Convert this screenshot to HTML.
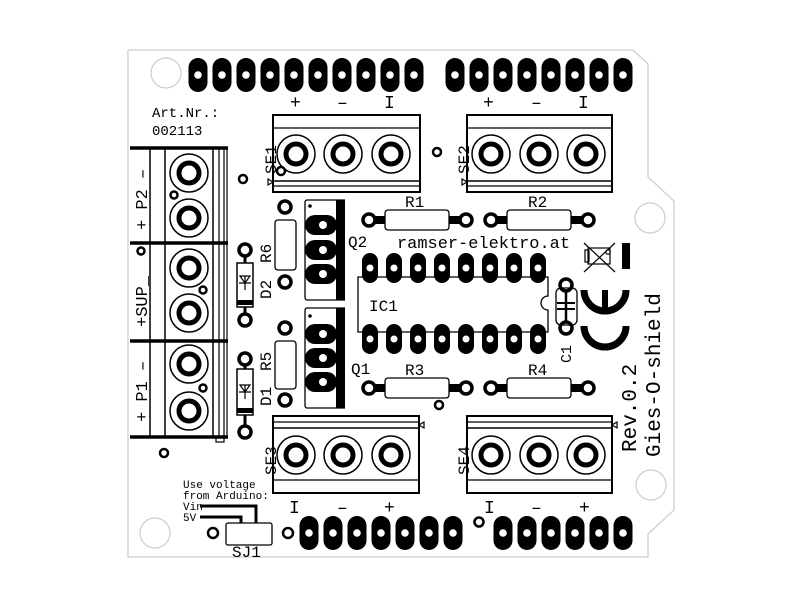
<!DOCTYPE html>
<html><head><meta charset="utf-8"><style>
html,body{margin:0;padding:0;background:#fff;}
svg{display:block;}
text{font-family:"Liberation Mono","DejaVu Sans Mono",monospace;fill:#000;}
</style></head><body>
<svg width="800" height="600" viewBox="0 0 800 600" xmlns="http://www.w3.org/2000/svg">
<rect width="800" height="600" fill="#fff"/>
<polyline points="128,50 633,50 648,64 648,177 674,201 674,510 648,534 648,557 128,557 128,50" fill="none" stroke="#ccc" stroke-width="1.2"/>
<g fill="none" stroke="#ccc" stroke-width="1.2">
<circle cx="166" cy="73" r="15"/><circle cx="155" cy="533" r="15"/>
<circle cx="650" cy="218" r="15"/><circle cx="651" cy="485" r="15"/>
</g>
<defs>
<g id="hp"><rect x="-9.5" y="-17" width="19" height="34" rx="9.5" fill="#000"/><circle r="3.8" fill="#fff"/></g>
<g id="vp"><rect x="-8" y="-15" width="16" height="30" rx="8" fill="#000"/><circle r="3.5" fill="#fff"/></g>
<g id="qp"><rect x="-16" y="-10" width="32" height="20" rx="10" fill="#000"/><circle cx="2" r="4" fill="#fff"/></g>
<g id="sp"><circle r="6" fill="none" stroke="#000" stroke-width="3.5"/></g>
<g id="tc"><circle r="19" fill="none" stroke="#000" stroke-width="1.5"/><circle r="10" fill="none" stroke="#000" stroke-width="5"/></g>
</defs>
<g>
<use href="#hp" x="198" y="75"/><use href="#hp" x="222" y="75"/><use href="#hp" x="246" y="75"/><use href="#hp" x="270" y="75"/><use href="#hp" x="294" y="75"/><use href="#hp" x="318" y="75"/><use href="#hp" x="342" y="75"/><use href="#hp" x="366" y="75"/><use href="#hp" x="390" y="75"/><use href="#hp" x="414" y="75"/>
<use href="#hp" x="455" y="75"/><use href="#hp" x="479" y="75"/><use href="#hp" x="503" y="75"/><use href="#hp" x="527" y="75"/><use href="#hp" x="551" y="75"/><use href="#hp" x="575" y="75"/><use href="#hp" x="599" y="75"/><use href="#hp" x="623" y="75"/>
</g>
<g>
<use href="#hp" x="309" y="533"/><use href="#hp" x="333" y="533"/><use href="#hp" x="357" y="533"/><use href="#hp" x="381" y="533"/><use href="#hp" x="405" y="533"/><use href="#hp" x="429" y="533"/><use href="#hp" x="453" y="533"/>
<use href="#hp" x="503" y="533"/><use href="#hp" x="527" y="533"/><use href="#hp" x="551" y="533"/><use href="#hp" x="575" y="533"/><use href="#hp" x="599" y="533"/><use href="#hp" x="623" y="533"/>
</g>
<g font-size="18">
<text x="290" y="108">+</text><text x="337" y="108">–</text><text x="384" y="108" font-family="Liberation Serif">I</text>
<text x="483" y="108">+</text><text x="531" y="108">–</text><text x="578" y="108" font-family="Liberation Serif">I</text>
<text x="289" y="513" font-family="Liberation Serif">I</text><text x="337" y="513">–</text><text x="384" y="513">+</text>
<text x="484" y="513" font-family="Liberation Serif">I</text><text x="531" y="513">–</text><text x="579" y="513">+</text>
</g>
<text x="152" y="117" font-size="14">Art.Nr.:</text>
<text x="152" y="135" font-size="14">002113</text>
<g fill="none" stroke="#000">
<rect x="273" y="115" width="147" height="77" stroke-width="2"/>
<line x1="273" y1="128" x2="420" y2="128" stroke-width="1.2"/>
<line x1="273" y1="181" x2="420" y2="181" stroke-width="1.5"/>
<line x1="273" y1="186" x2="420" y2="186" stroke-width="1.2"/>
<rect x="467" y="115" width="145" height="77" stroke-width="2"/>
<line x1="467" y1="128" x2="612" y2="128" stroke-width="1.2"/>
<line x1="467" y1="181" x2="612" y2="181" stroke-width="1.5"/>
<line x1="467" y1="186" x2="612" y2="186" stroke-width="1.2"/>
<rect x="273" y="416" width="146" height="77" stroke-width="2"/>
<line x1="273" y1="422" x2="419" y2="422" stroke-width="1.2"/>
<line x1="273" y1="428" x2="419" y2="428" stroke-width="1.5"/>
<line x1="273" y1="480" x2="419" y2="480" stroke-width="1.2"/>
<rect x="467" y="416" width="145" height="77" stroke-width="2"/>
<line x1="467" y1="422" x2="612" y2="422" stroke-width="1.2"/>
<line x1="467" y1="428" x2="612" y2="428" stroke-width="1.5"/>
<line x1="467" y1="480" x2="612" y2="480" stroke-width="1.2"/>
<path d="M268,179 l5,3 l-5,3z M462,179 l5,3 l-5,3z M424,422 l-5,3 l5,3z M617,422 l-5,3 l5,3z" stroke-width="1.2"/>
</g>
<use href="#tc" x="296" y="154"/><use href="#tc" x="343" y="154"/><use href="#tc" x="391" y="154"/>
<use href="#tc" x="491" y="154"/><use href="#tc" x="539" y="154"/><use href="#tc" x="586" y="154"/>
<use href="#tc" x="296" y="455"/><use href="#tc" x="343" y="455"/><use href="#tc" x="391" y="455"/>
<use href="#tc" x="491" y="455"/><use href="#tc" x="539" y="455"/><use href="#tc" x="586" y="455"/>
<g font-size="16">
<text transform="translate(276,174) rotate(-90)">SE1</text>
<text transform="translate(469,174) rotate(-90)">SE2</text>
<text transform="translate(276,475) rotate(-90)">SE3</text>
<text transform="translate(469,475) rotate(-90)">SE4</text>
</g>
<g stroke="#000" fill="none">
<line x1="130" y1="148" x2="228" y2="148" stroke-width="3.5"/>
<line x1="130" y1="243" x2="228" y2="243" stroke-width="3.5"/>
<line x1="130" y1="341" x2="228" y2="341" stroke-width="3.5"/>
<line x1="130" y1="437" x2="228" y2="437" stroke-width="3.5"/>
<line x1="150" y1="148" x2="150" y2="437" stroke-width="1.5"/>
<line x1="165" y1="148" x2="165" y2="437" stroke-width="1.5"/>
<line x1="213" y1="148" x2="213" y2="437" stroke-width="1.5"/>
<line x1="219" y1="148" x2="219" y2="437" stroke-width="1.2"/>
<line x1="224" y1="148" x2="224" y2="437" stroke-width="1.2"/>
<line x1="227" y1="148" x2="227" y2="437" stroke-width="1.2"/>
<rect x="216" y="437" width="8" height="5" stroke-width="1.2"/>
</g>
<use href="#tc" x="189" y="173"/><use href="#tc" x="189" y="218"/>
<use href="#tc" x="189" y="268"/><use href="#tc" x="189" y="313"/>
<use href="#tc" x="189" y="364"/><use href="#tc" x="189" y="411"/>
<g font-size="17">
<text transform="translate(147,230) rotate(-90)">+ P2 –</text>
<text transform="translate(147,327) rotate(-90)">+SUP_</text>
<text transform="translate(147,422) rotate(-90)">+ P1 –</text>
</g>
<g fill="none" stroke="#000" stroke-width="2.5">
<circle cx="141" cy="251" r="3.5"/><circle cx="174" cy="195" r="3.5"/><circle cx="203" cy="290" r="3.5"/><circle cx="203" cy="388" r="3.5"/>
<circle cx="243" cy="179" r="4"/><circle cx="164" cy="453" r="4"/><circle cx="281" cy="171" r="4"/><circle cx="437" cy="152" r="4"/><circle cx="439" cy="405" r="4"/><circle cx="479" cy="522" r="4.5"/><circle cx="288" cy="533" r="5"/><circle cx="213" cy="533" r="5"/>
</g>
<use href="#sp" x="245" y="250"/><use href="#sp" x="245" y="320"/>
<use href="#sp" x="245" y="359"/><use href="#sp" x="245" y="432"/>
<g stroke="#000" fill="none">
<line x1="245" y1="255" x2="245" y2="315" stroke-width="3"/>
<rect x="237" y="263" width="16" height="44" fill="#fff" stroke-width="1.5"/>
<rect x="237" y="300" width="16" height="5" fill="#000" stroke="none"/>
<path d="M239,283 h12 M245,276 v14 M240,276 l5,7 l5,-7z" stroke-width="1.2"/>
<line x1="245" y1="364" x2="245" y2="427" stroke-width="3"/>
<rect x="237" y="369" width="16" height="46" fill="#fff" stroke-width="1.5"/>
<rect x="237" y="408" width="16" height="5" fill="#000" stroke="none"/>
<path d="M239,392 h12 M245,385 v14 M240,385 l5,7 l5,-7z" stroke-width="1.2"/>
</g>
<g font-size="16">
<text transform="translate(271,299) rotate(-90)">D2</text>
<text transform="translate(271,406) rotate(-90)">D1</text>
<text transform="translate(271,263) rotate(-90)">R6</text>
<text transform="translate(271,371) rotate(-90)">R5</text>
</g>
<use href="#sp" x="285" y="207"/><use href="#sp" x="285" y="282"/>
<use href="#sp" x="285" y="328"/><use href="#sp" x="285" y="400"/>
<g fill="none" stroke="#000" stroke-width="1.3">
<rect x="275" y="220" width="21" height="50" rx="3"/>
<rect x="275" y="341" width="21" height="48" rx="3"/>
</g>
<g stroke="#000" fill="none" stroke-width="1.3">
<path d="M345,200 H307 Q305,200 305,203 V297 Q305,300 307,300 H345"/>
<path d="M345,308 H307 Q305,308 305,311 V405 Q305,408 307,408 H345"/>
</g>
<rect x="336" y="200" width="9" height="100" fill="#000"/>
<rect x="336" y="308" width="9" height="100" fill="#000"/>
<circle cx="310" cy="206" r="1.8" fill="#000"/><circle cx="310" cy="316" r="1.8" fill="#000"/>
<use href="#qp" x="321" y="225"/><use href="#qp" x="321" y="250"/><use href="#qp" x="321" y="274"/>
<use href="#qp" x="321" y="334"/><use href="#qp" x="321" y="358"/><use href="#qp" x="321" y="382"/>
<text x="348" y="247" font-size="16">Q2</text>
<text x="351" y="374" font-size="16">Q1</text>
<g id="rh">
<use href="#sp" x="369" y="220"/><use href="#sp" x="466" y="220"/>
<rect x="374" y="216" width="12" height="8" fill="#000"/><rect x="448" y="216" width="12" height="8" fill="#000"/>
<rect x="385" y="210" width="64" height="20" rx="3" fill="#fff" stroke="#000" stroke-width="1.3"/>
</g>
<use href="#rh" x="122" y="0"/>
<use href="#rh" x="0" y="168"/>
<use href="#rh" x="122" y="168"/>
<g font-size="16">
<text x="405" y="207">R1</text><text x="528" y="207">R2</text>
<text x="405" y="375">R3</text><text x="528" y="375">R4</text>
</g>
<text x="397" y="248" font-size="17" textLength="173" lengthAdjust="spacingAndGlyphs">ramser-elektro.at</text>
<path d="M548,277 H358 V332 H548 V310 A7,7 0 0 1 548,296 Z" fill="none" stroke="#000" stroke-width="1.3"/>
<g>
<use href="#vp" x="370" y="268"/><use href="#vp" x="394" y="268"/><use href="#vp" x="418" y="268"/><use href="#vp" x="442" y="268"/><use href="#vp" x="466" y="268"/><use href="#vp" x="490" y="268"/><use href="#vp" x="514" y="268"/><use href="#vp" x="538" y="268"/>
<use href="#vp" x="370" y="339"/><use href="#vp" x="394" y="339"/><use href="#vp" x="418" y="339"/><use href="#vp" x="442" y="339"/><use href="#vp" x="466" y="339"/><use href="#vp" x="490" y="339"/><use href="#vp" x="514" y="339"/><use href="#vp" x="538" y="339"/>
</g>
<text x="369" y="311" font-size="16">IC1</text>
<rect x="556" y="288" width="21" height="37" rx="5" fill="none" stroke="#000" stroke-width="1.3"/>
<use href="#sp" x="566" y="285"/><use href="#sp" x="566" y="328"/>
<g stroke="#000" stroke-width="2.5"><line x1="566" y1="290" x2="566" y2="323"/><line x1="557" y1="303" x2="575" y2="303" stroke-width="2"/><line x1="557" y1="309" x2="575" y2="309" stroke-width="2"/></g>
<text transform="translate(571,363) rotate(-90)" font-size="15">C1</text>
<g stroke="#000" fill="none" stroke-width="1.2">
<rect x="588" y="248" width="22" height="16"/>
<path d="M584,243 L615,272 M615,243 L584,272"/>
<rect x="585" y="250" width="4" height="12"/>
<circle cx="608" cy="252" r="2.2"/>
</g>
<rect x="622" y="243" width="8" height="26" fill="#000"/>
<g fill="none" stroke="#000" stroke-width="7">
<path d="M584,290 A21,21 0 0 0 626,290"/>
<path d="M584,326 A21,21 0 0 0 626,326"/>
</g>
<line x1="605" y1="290" x2="605" y2="308" stroke="#000" stroke-width="6"/>
<text transform="translate(636,452) rotate(-90)" font-size="21">Rev.0.2</text>
<text transform="translate(660,457) rotate(-90)" font-size="21">Gies-O-shield</text>
<text x="183" y="488" font-size="11">Use voltage</text>
<text x="183" y="499" font-size="11">from Arduino:</text>
<text x="183" y="510" font-size="11">Vin</text>
<text x="183" y="521" font-size="11">5V</text>
<g stroke="#000" stroke-width="3" fill="none">
<path d="M200,506 H256 V523"/>
<path d="M200,517 H241 V523"/>
</g>
<rect x="226" y="523" width="46" height="22" rx="2" fill="#fff" stroke="#000" stroke-width="1.3"/>
<text x="232" y="557" font-size="16">SJ1</text>
</svg>
</body></html>
